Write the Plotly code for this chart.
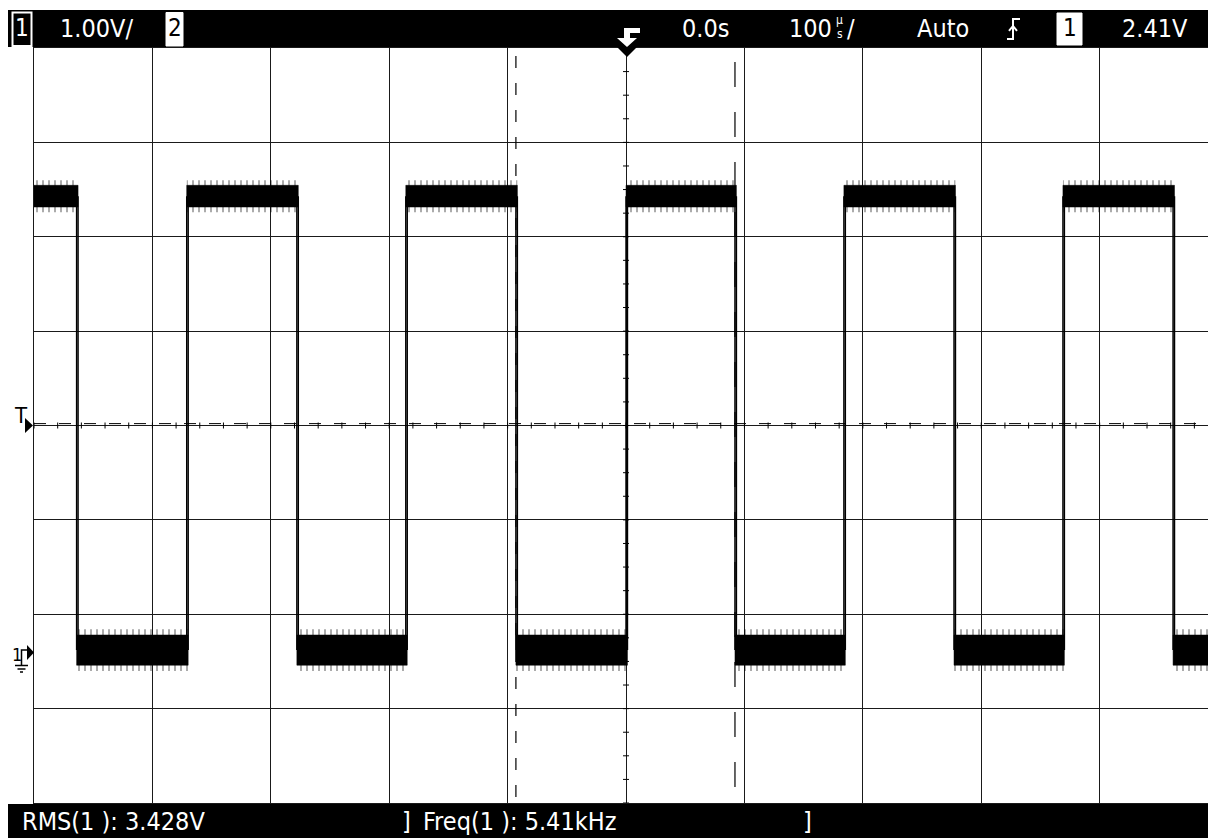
import plotly.graph_objects as go

# ---- scope settings ----
volts_per_div = 1.00
time_per_div_us = 100
screen_center_v = 2.39      # channel-1 level at graticule centre
trigger_level_v = 2.41
rms_text = "RMS(1 ): 3.428V"
freq_text = "Freq(1 ): 5.41kHz"

# ---- channel 1 square wave ----
edge_us = [-464, -371, -278, -186, -93, 0, 92, 184, 277, 369, 462]  # edge times
first_state_high = True
high_level_v = 4.82
low_level_v = 0.01
high_core_v = 0.115     # half-height of the dense noise band
low_core_v = 0.16
high_fringe_v = 0.17    # half-height of the sparse noise spikes
low_fringe_v = 0.22
edge_jitter_us = 1.2

# ---- period cursors (µs) ----
cursor_us = [-93, 92]

x_range = [-500, 491.5]
y_range = [screen_center_v - 4 * volts_per_div, screen_center_v + 4 * volts_per_div]

# ---- page geometry ----
W, H = 1208, 838
ML, MR, MT, MB = 34, 0, 48, 35
PW, PH = W - ML - MR, H - MT - MB


def px(x):
    return (x - ML) / PW


def py(y):
    return (H - MB - y) / PH


def path(points, close=True):
    s = "M " + " L ".join(f"{px(x):.5f},{py(y):.5f}" for x, y in points)
    return s + (" Z" if close else "")


us_per_px = (x_range[1] - x_range[0]) / PW
v_per_px = (y_range[1] - y_range[0]) / PH

# ---- build band polygons and edges from the edge list ----
bounds = [x_range[0]] + edge_us + [x_range[1]]
core_x, core_y, fr_x, fr_y = [], [], [], []
edge_x, edge_y = [], []
state = first_state_high
for i in range(len(bounds) - 1):
    a = bounds[i]
    b = bounds[i + 1] + (edge_jitter_us if i + 1 < len(bounds) - 1 else 0)
    lvl = high_level_v if state else low_level_v
    core = high_core_v if state else low_core_v
    fr = high_fringe_v if state else low_fringe_v
    core_x += [a, b, b, a, a, None]
    core_y += [lvl - core, lvl - core, lvl + core, lvl + core, lvl - core, None]
    fr_x += [a, b, b, a, a, None]
    fr_y += [lvl - fr, lvl - fr, lvl + fr, lvl + fr, lvl - fr, None]
    state = not state

for t in edge_us:
    for dt in (0, edge_jitter_us):
        edge_x += [t + dt, t + dt, None]
        edge_y += [low_level_v, high_level_v, None]

fig = go.Figure()
fig.add_trace(go.Scatter(
    x=fr_x, y=fr_y, mode="lines", fill="toself", line=dict(width=0),
    fillcolor="rgba(0,0,0,0)",
    fillpattern=dict(shape="|", size=6, solidity=0.22, fgcolor="black",
                     bgcolor="rgba(0,0,0,0)"),
    hoverinfo="skip", showlegend=False))
fig.add_trace(go.Scatter(
    x=core_x, y=core_y, mode="lines", fill="toself", line=dict(width=0.5, color="black"),
    fillcolor="black", hoverinfo="skip", showlegend=False))
fig.add_trace(go.Scatter(
    x=edge_x, y=edge_y, mode="lines", line=dict(width=1.5, color="black"),
    hoverinfo="skip", showlegend=False))

shapes = []
# trigger level
shapes.append(dict(type="line", xref="x", yref="y", x0=x_range[0], x1=x_range[1],
                   y0=trigger_level_v, y1=trigger_level_v,
                   line=dict(color="black", width=1, dash="12px,13px")))
# cursors
shapes.append(dict(type="line", xref="x", yref="paper", x0=cursor_us[0], x1=cursor_us[0],
                   y0=py(56), y1=0, line=dict(color="black", width=1.2, dash="12px,15px")))
shapes.append(dict(type="line", xref="x", yref="paper", x0=cursor_us[1], x1=cursor_us[1],
                   y0=py(62), y1=0, line=dict(color="black", width=1.2, dash="25px,25px")))

# minor ticks on the centre cross
tick_half = 3
sub_t = time_per_div_us / 5
k = 0
t = x_range[0]
while t <= x_range[1]:
    shapes.append(dict(type="line", xref="x", yref="y", x0=t, x1=t,
                       y0=screen_center_v - tick_half * v_per_px,
                       y1=screen_center_v + tick_half * v_per_px,
                       line=dict(color="black", width=1)))
    k += 1
    t = x_range[0] + k * sub_t
sub_v = volts_per_div / 4
for j in range(0, 33):
    v = y_range[0] + j * sub_v
    shapes.append(dict(type="line", xref="x", yref="y", x0=-tick_half * us_per_px,
                       x1=tick_half * us_per_px, y0=v, y1=v,
                       line=dict(color="black", width=1)))

# status bars
shapes.append(dict(type="rect", xref="paper", yref="paper", x0=px(8), x1=px(W),
                   y0=py(47), y1=py(10), fillcolor="black", line=dict(width=0), layer="above"))
shapes.append(dict(type="rect", xref="paper", yref="paper", x0=px(8), x1=px(W),
                   y0=py(H), y1=py(804), fillcolor="black", line=dict(width=0), layer="above"))
# channel boxes
shapes.append(dict(type="rect", xref="paper", yref="paper", x0=px(12.5), x1=px(31.5),
                   y0=py(46), y1=py(12.5), fillcolor="black",
                   line=dict(color="white", width=2), layer="above"))
shapes.append(dict(type="rect", xref="paper", yref="paper", x0=px(166), x1=px(183),
                   y0=py(46), y1=py(12.5), fillcolor="white",
                   line=dict(color="white", width=1), layer="above"))
shapes.append(dict(type="rect", xref="paper", yref="paper", x0=px(1057), x1=px(1082),
                   y0=py(45), y1=py(13), fillcolor="white",
                   line=dict(color="white", width=1), layer="above"))
# trigger position marker
shapes.append(dict(type="path", xref="paper", yref="paper",
                   path=path([(617, 47), (637, 47), (627, 57)]),
                   fillcolor="black", line=dict(width=0), layer="above"))
shapes.append(dict(type="path", xref="paper", yref="paper",
                   path=path([(624, 28), (640, 28), (640, 33), (630, 33), (630, 38),
                              (637, 38), (627, 47), (617, 38), (624, 38)]),
                   fillcolor="white", line=dict(width=0), layer="above"))
# trigger slope symbol
shapes.append(dict(type="path", xref="paper", yref="paper",
                   path=path([(1007, 39), (1013, 39), (1013, 19), (1020, 19)], close=False),
                   line=dict(color="white", width=2), layer="above"))
shapes.append(dict(type="path", xref="paper", yref="paper",
                   path=path([(1009, 31), (1013, 26), (1017, 31)], close=False),
                   line=dict(color="white", width=2), layer="above"))
# trigger level marker
shapes.append(dict(type="path", xref="paper", yref="paper",
                   path=path([(25, 418), (25, 433), (33, 425.5)]),
                   fillcolor="black", line=dict(width=0), layer="above"))
# channel 1 ground marker
shapes.append(dict(type="path", xref="paper", yref="paper",
                   path=path([(27, 645), (27, 660), (34, 652.5)]),
                   fillcolor="black", line=dict(width=0), layer="above"))
shapes.append(dict(type="path", xref="paper", yref="paper",
                   path=path([(21.5, 665), (21.5, 650), (27, 650)], close=False),
                   line=dict(color="black", width=1.5), layer="above"))
for (xa, xb, yy) in [(15, 28, 665.5), (17.5, 25.5, 669), (20, 23, 672)]:
    shapes.append(dict(type="line", xref="paper", yref="paper", x0=px(xa), x1=px(xb),
                       y0=py(yy), y1=py(yy), line=dict(color="black", width=1.5),
                       layer="above"))

FONT = "Liberation Sans Narrow, Arial Narrow, DejaVu Sans Condensed, sans-serif"
annotations = []


def text(s, x, y, size=25, color="white", anchor="left"):
    annotations.append(dict(text=s, x=px(x), y=py(y), xref="paper", yref="paper",
                            xanchor=anchor, yanchor="middle", showarrow=False,
                            borderpad=0,
                            font=dict(family=FONT, size=size, color=color)))


TY = 28
text("1", 22, TY, size=24, anchor="center")
text("1.00V/", 59, TY)
text("2", 174.5, TY, size=24, color="black", anchor="center")
text("0.0s", 681, TY)
text("100", 788, TY)
text("µ", 839.5, 20, size=12, anchor="center")
text("s", 839.5, 34, size=12, anchor="center")
text("/", 846, TY)
text("Auto", 916, TY)
text("1", 1069.5, TY, size=24, color="black", anchor="center")
text("2.41V", 1121, TY)

BY = 821
text(rms_text, 21, BY)
text("]", 401, BY)
text(freq_text, 422, BY)
text("]", 802, BY)

text("T", 21, 415, size=22, color="black", anchor="center")
text("1", 16.5, 654, size=18, color="black", anchor="center")

fig.update_layout(
    width=W, height=H,
    margin=dict(l=ML, r=MR, t=MT, b=MB, pad=0),
    paper_bgcolor="white", plot_bgcolor="white",
    shapes=shapes, annotations=annotations,
    showlegend=False,
    xaxis=dict(range=x_range, tick0=0, dtick=time_per_div_us, showgrid=True,
               gridcolor="#1a1a1a", gridwidth=1, zeroline=False, showticklabels=False,
               ticks="", showline=True, linecolor="#1a1a1a", linewidth=1, mirror=True,
               fixedrange=True),
    yaxis=dict(range=y_range, tick0=screen_center_v, dtick=volts_per_div, showgrid=True,
               gridcolor="#1a1a1a", gridwidth=1, zeroline=False, showticklabels=False,
               ticks="", showline=True, linecolor="#1a1a1a", linewidth=1, mirror=False,
               fixedrange=True),
)

fig.write_html("out.html", config={"displayModeBar": False})
